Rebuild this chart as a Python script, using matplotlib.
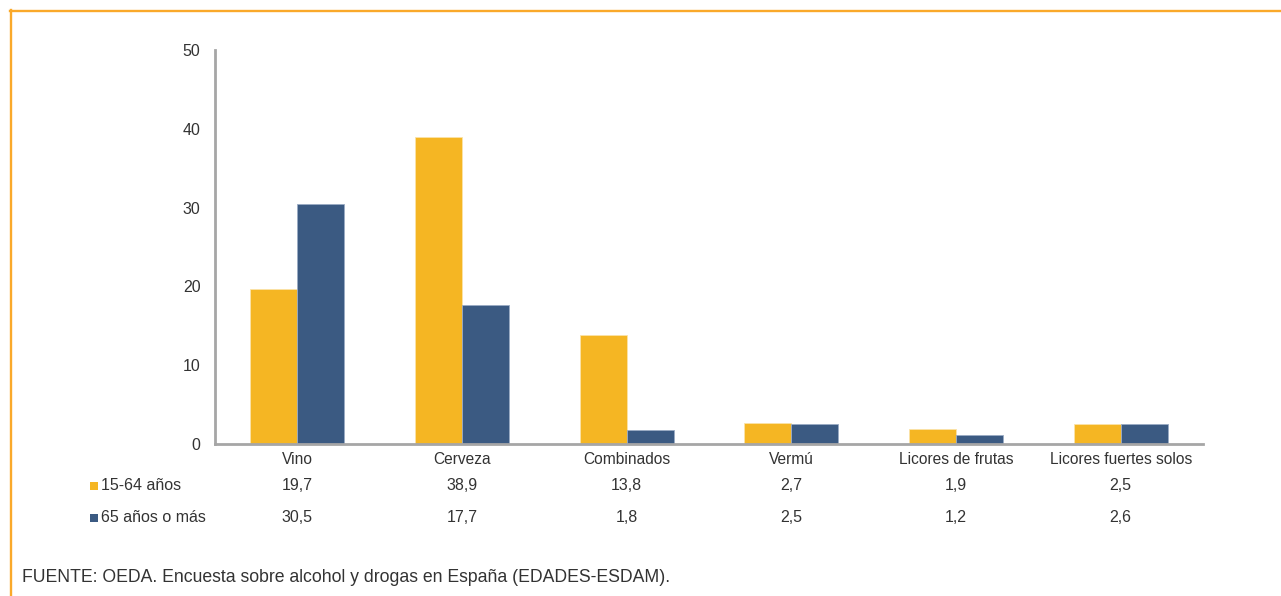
import matplotlib
matplotlib.use("Agg")
import matplotlib.pyplot as plt
from matplotlib.lines import Line2D
from matplotlib.patches import Rectangle
import matplotlib.transforms as mtransforms

plt.rcParams['font.family'] = ['Liberation Sans', 'DejaVu Sans']

categories = ["Vino", "Cerveza", "Combinados", "Vermú", "Licores de frutas", "Licores fuertes solos"]
series_names = ["15-64 años", "65 años o más"]
values_young = [19.7, 38.9, 13.8, 2.7, 1.9, 2.5]
values_old = [30.5, 17.7, 1.8, 2.5, 1.2, 2.6]
labels_young = ["19,7", "38,9", "13,8", "2,7", "1,9", "2,5"]
labels_old = ["30,5", "17,7", "1,8", "2,5", "1,2", "2,6"]
yticks = [0, 10, 20, 30, 40, 50]
footer = "FUENTE: OEDA. Encuesta sobre alcohol y drogas en España (EDADES-ESDAM)."

c_orange = "#F5B623"
c_blue = "#3B5A82"
txt = "#333333"
W, H = 1281, 596

fig = plt.figure(figsize=(W / 100, H / 100), dpi=100)
ax = fig.add_axes([215 / W, 1 - 444 / H, (1203 - 215) / W, (444 - 50) / H])

x = list(range(len(categories)))
bw = 0.285
ax.bar([i - bw / 2 for i in x], values_young, width=bw, color=c_orange,
       edgecolor="#fbe3a8", linewidth=0.6, zorder=2)
ax.bar([i + bw / 2 for i in x], values_old, width=bw, color=c_blue,
       edgecolor="#9aabc4", linewidth=0.6, zorder=2)

ax.set_xlim(-0.5, len(categories) - 0.5)
ax.set_ylim(0, 50)
ax.set_yticks(yticks)
ax.set_yticklabels([str(t) for t in yticks], fontsize=11.5, color=txt)
ax.tick_params(axis='y', length=0, pad=10.5)
ax.set_xticks([])
for s in ["top", "right"]:
    ax.spines[s].set_visible(False)
for s in ["left", "bottom"]:
    ax.spines[s].set_color("#a6a6a6")
    ax.spines[s].set_linewidth(2)

# data-table below the chart
trans = mtransforms.blended_transform_factory(ax.transData, fig.transFigure)
for i, cat in enumerate(categories):
    ax.text(i, 1 - 459 / H, cat, transform=trans, ha="center", va="center",
            fontsize=11.2, color=txt, clip_on=False)
    ax.text(i, 1 - 486 / H, labels_young[i], transform=trans, ha="center", va="center",
            fontsize=11.5, color=txt, clip_on=False)
    ax.text(i, 1 - 518 / H, labels_old[i], transform=trans, ha="center", va="center",
            fontsize=11.5, color=txt, clip_on=False)

# row legends
for yy, col, name in [(486, c_orange, series_names[0]), (518, c_blue, series_names[1])]:
    fig.patches.append(Rectangle((90 / W, 1 - (yy + 4) / H), 8 / W, 8 / H,
                                 transform=fig.transFigure, facecolor=col,
                                 edgecolor="none", figure=fig))
    fig.text(101 / W, 1 - yy / H, name, ha="left", va="center", fontsize=11.5, color=txt)

fig.text(22 / W, 1 - 578 / H, footer, ha="left", va="center", fontsize=12.7, color=txt)

# orange frame (top and left)
frame_col = "#FAA92A"
fig.lines.append(Line2D([10 / W, 1.0], [1 - 11 / H, 1 - 11 / H], transform=fig.transFigure,
                        color=frame_col, linewidth=1.7))
fig.lines.append(Line2D([11 / W, 11 / W], [1 - 10 / H, 0.0], transform=fig.transFigure,
                        color=frame_col, linewidth=1.7))

fig.savefig("out.png", dpi=100, facecolor="white")
